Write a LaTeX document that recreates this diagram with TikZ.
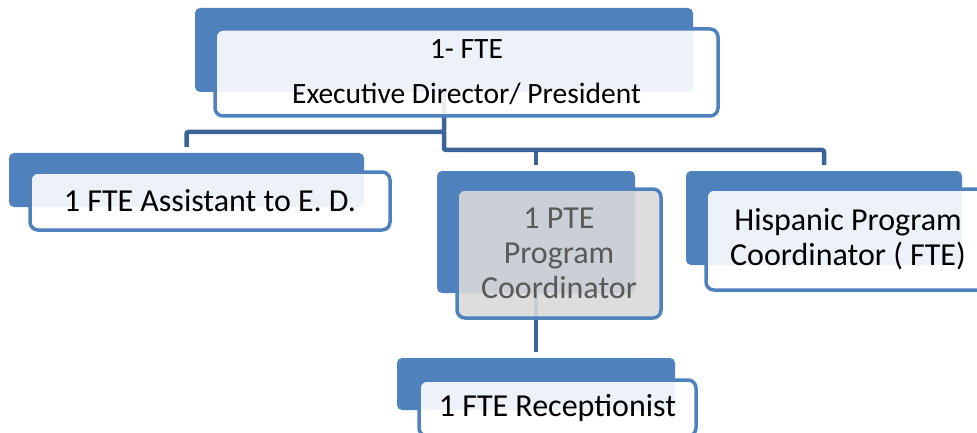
\documentclass[tikz,border=0pt]{standalone}
\usepackage{fontspec}
\setmainfont{Carlito}
\definecolor{boxblue}{RGB}{79,129,189}
\definecolor{lineblue}{RGB}{60,100,150}
\definecolor{ptegray}{RGB}{217,217,217}
\definecolor{ptetext}{RGB}{89,89,89}

\tikzstyle{back} = [rectangle, rounded corners=5pt, fill=boxblue, inner sep=0pt]
\tikzstyle{front} = [rectangle, rounded corners=8pt, draw=boxblue, line width=3.5pt, fill=white, fill opacity=0.9, text opacity=1, inner sep=0pt, align=center, font=\fontsize{32}{35}\selectfont]
\tikzstyle{conn} = [draw=lineblue, line width=4.5pt, rounded corners=2pt]

\begin{document}
\begin{tikzpicture}[x=1pt, y=-1pt]
\clip (0,0) rectangle (977,433);
%back shapes
\node (topb) [back, minimum width=498pt, minimum height=84pt] at (444,50) {};
\node (asstb) [back, minimum width=355pt, minimum height=54pt] at (186.5,180) {};
\node (pteb) [back, minimum width=198pt, minimum height=122pt] at (536,232) {};
\node (hispb) [back, minimum width=276pt, minimum height=94pt] at (824,218) {};
\node (recb) [back, minimum width=278pt, minimum height=52pt] at (536,384) {};

%connectors
\coordinate (lvl1) at (0,132);
\coordinate (lvl2) at (0,150);
\draw [conn](topb.south) -- (topb.south |- lvl1) -| ([yshift=6pt]asstb.north);
\draw [conn](topb.south |- lvl1) -- (topb.south |- lvl2) -| ([yshift=6pt]hispb.north);
\draw [conn](pteb.north |- lvl2) -- ([yshift=6pt]pteb.north);
\draw [conn](pteb.south) -- ([yshift=6pt]recb.north);

%front shapes
\node (top) [front, minimum width=503pt, minimum height=87pt, font=\fontsize{29.5}{45}\selectfont] at (466.5,72.5) {1- FTE\\Executive Director/ President};
\node (asst) [front, minimum width=360pt, minimum height=58pt] at (210,201) {1 FTE Assistant to E. D.};
\node (pte) [front, minimum width=204pt, minimum height=129pt, fill=ptegray, text=ptetext] at (559,253.5) {1 PTE\\Program\\Coordinator};
\node (hisp) [front, minimum width=284pt, minimum height=101pt] at (848,239.5) {Hispanic Program\\Coordinator ( FTE)};
\node (rec) [front, minimum width=277pt, minimum height=56pt] at (557.5,408) {1 FTE Receptionist};
\end{tikzpicture}
\end{document}
